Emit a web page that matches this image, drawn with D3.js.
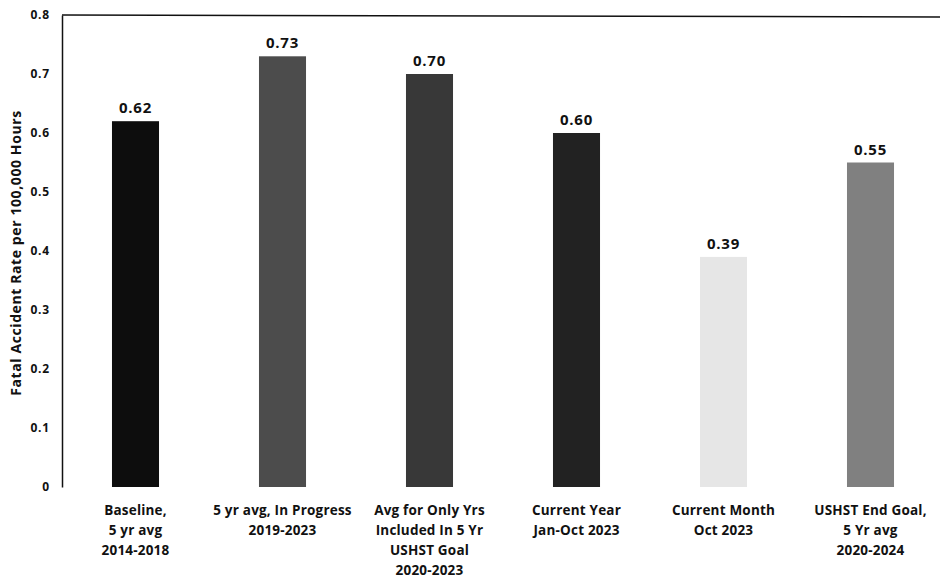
<!DOCTYPE html>
<html><head><meta charset="utf-8">
<script src="https://cdn.jsdelivr.net/npm/d3@7"></script>
<style>body{margin:0;background:#fff}svg{display:block}text{font-family:"Open Sans","Liberation Sans",sans-serif;font-weight:bold;fill:#111}</style>
</head><body><svg id="c" width="942" height="579"></svg>
<script>
const categories = [
  ["Baseline,","5 yr avg","2014-2018"],
  ["5 yr avg, In Progress","2019-2023"],
  ["Avg for Only Yrs","Included In 5 Yr","USHST Goal","2020-2023"],
  ["Current Year","Jan-Oct 2023"],
  ["Current Month","Oct 2023"],
  ["USHST End Goal,","5 Yr avg","2020-2024"]
];
const values = [0.62, 0.73, 0.70, 0.60, 0.39, 0.55];
const valueLabels = ["0.62","0.73","0.70","0.60","0.39","0.55"];
const yTicks = [0, 0.1, 0.2, 0.3, 0.4, 0.5, 0.6, 0.7, 0.8];
const yTickLabels = ["0","0.1","0.2","0.3","0.4","0.5","0.6","0.7","0.8"];
const barColors = ["#0d0d0d","#4c4c4c","#383838","#222222","#e6e6e6","#808080"];
const yTitle = "Fatal Accident Rate per 100,000 Hours";

const svg = d3.select("#c");
const x = d3.scaleBand().domain(d3.range(values.length)).range([62, 944]).paddingInner(0.68).paddingOuter(0.34);
const y = d3.scaleLinear().domain([0, 0.8]).range([487, 15]);

const yAxis = d3.axisLeft(y).tickValues(yTicks).tickFormat((d,i)=>yTickLabels[i]).tickSize(0).tickPadding(12);
const ga = svg.append("g").attr("transform","translate(62,0)").call(yAxis);
ga.select(".domain").attr("stroke","#111").attr("stroke-width",1.5);
ga.selectAll("text").style("font-size","12px").style("font-family","'Open Sans', sans-serif")
  .style("font-weight","bold").style("letter-spacing","0.8px").attr("fill","#111");

svg.append("line").attr("x1",62).attr("x2",940).attr("y1",y(0.8)).attr("y2",y(0.8)+2)
  .attr("stroke","#111").attr("stroke-width",1.5);

svg.selectAll("rect.bar").data(values).join("rect").attr("class","bar")
  .attr("x",(d,i)=>x(i)).attr("width",x.bandwidth())
  .attr("y",d=>y(d)).attr("height",d=>y(0)-y(d))
  .attr("fill",(d,i)=>barColors[i]);

svg.selectAll("text.val").data(values).join("text").attr("class","val")
  .attr("x",(d,i)=>x(i)+x.bandwidth()/2).attr("y",d=>y(d)-8)
  .attr("text-anchor","middle").style("font-size","15px").style("letter-spacing","0.8px").text((d,i)=>valueLabels[i]);

const cg = svg.selectAll("g.cat").data(categories).join("g").attr("class","cat")
  .attr("transform",(d,i)=>`translate(${x(i)+x.bandwidth()/2},515)`);
cg.each(function(lines){
  d3.select(this).selectAll("text").data(lines).join("text")
    .attr("text-anchor","middle").attr("y",(d,j)=>j*20).style("font-size","13.5px").style("letter-spacing","0.2px").text(d=>d);
});

svg.append("text").attr("transform","translate(21,253) rotate(-90)")
  .attr("text-anchor","middle").style("font-size","14px").style("letter-spacing","0.6px").text(yTitle);
</script></body></html>
